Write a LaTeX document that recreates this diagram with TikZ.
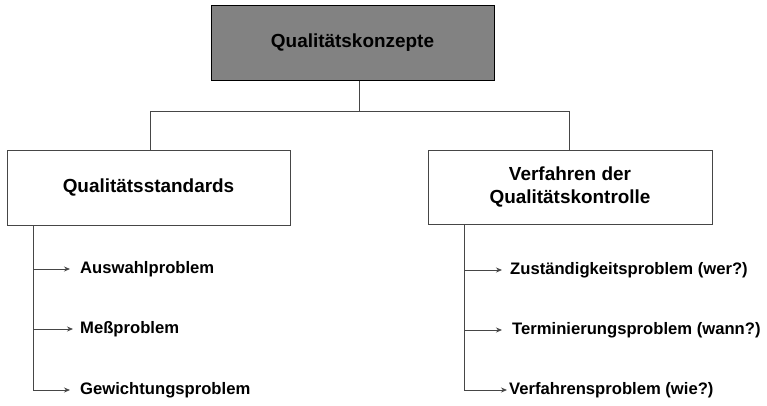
\documentclass[tikz,border=0pt]{standalone}
\usepackage{fontspec}
\setmainfont{Liberation Sans}
\usetikzlibrary{arrows.meta}
\definecolor{topfill}{RGB}{130,130,130}
\definecolor{linegray}{RGB}{70,70,70}
\tikzset{
  titlebox/.style={draw=linegray, line width=0.8bp, fill=white, align=center, font=\bfseries\fontsize{19}{23}\selectfont, inner sep=0pt},
  topbox/.style={draw=black, line width=1bp, fill=topfill, font=\bfseries\fontsize{19}{23}\selectfont, inner sep=0pt},
  itemtext/.style={anchor=west, inner sep=0pt, font=\bfseries\fontsize{16.7}{20}\selectfont},
  conn/.style={draw=linegray, line width=0.8bp},
  arr/.style={draw=linegray, line width=0.8bp, -{Stealth[length=6bp,width=5bp]}}
}
\begin{document}
\begin{tikzpicture}[x=1bp,y=-1bp]
\useasboundingbox (0,0) rectangle (767,405);
% top box
\node[topbox, minimum width=283bp, minimum height=75bp] (top) at (352.5,42.5) {Qualitätskonzepte};
% level 2 boxes
\node[titlebox, minimum width=283bp, minimum height=75bp] (qs) at (148.5,187.5) {Qualitätsstandards};
\node[titlebox, minimum width=284bp, minimum height=74bp] (vq) at (570,187) {Verfahren der\\Qualitätskontrolle};
% branch connectors
\coordinate (bl) at (150,111);
\coordinate (br) at (569,111);
\coordinate (bm) at (359,111);
\draw[conn] (top.south -| bm) -- (bm);
\draw[conn] (bl |- qs.north) -- (bl) -- (br) -- (br |- vq.north);
% left items
\coordinate (lt) at (33,225);
\node[itemtext] (a1) at (80,269) {Auswahlproblem};
\node[itemtext] (a2) at (80,329) {Meßproblem};
\node[itemtext] (a3) at (80,390) {Gewichtungsproblem};
\coordinate (lb) at (33,390);
\draw[conn] (lt) -- (lb);
\draw[arr] (lt |- a1.west) -- ([xshift=-10bp]a1.west);
\draw[arr] (lt |- a2.west) -- ([xshift=-7bp]a2.west);
\draw[arr] (lb) -- ([xshift=-10bp]a3.west);
% right items
\coordinate (rt) at (464,224);
\node[itemtext] (b1) at (510,270) {Zuständigkeitsproblem (wer?)};
\node[itemtext] (b2) at (512,330) {Terminierungsproblem (wann?)};
\node[itemtext] (b3) at (509,390) {Verfahrensproblem (wie?)};
\coordinate (rb) at (464,390);
\draw[conn] (rt) -- (rb);
\draw[arr] (rt |- b1.west) -- ([xshift=-8bp]b1.west);
\draw[arr] (rt |- b2.west) -- ([xshift=-10bp]b2.west);
\draw[arr] (rb) -- ([xshift=-2bp]b3.west);
\end{tikzpicture}
\end{document}
